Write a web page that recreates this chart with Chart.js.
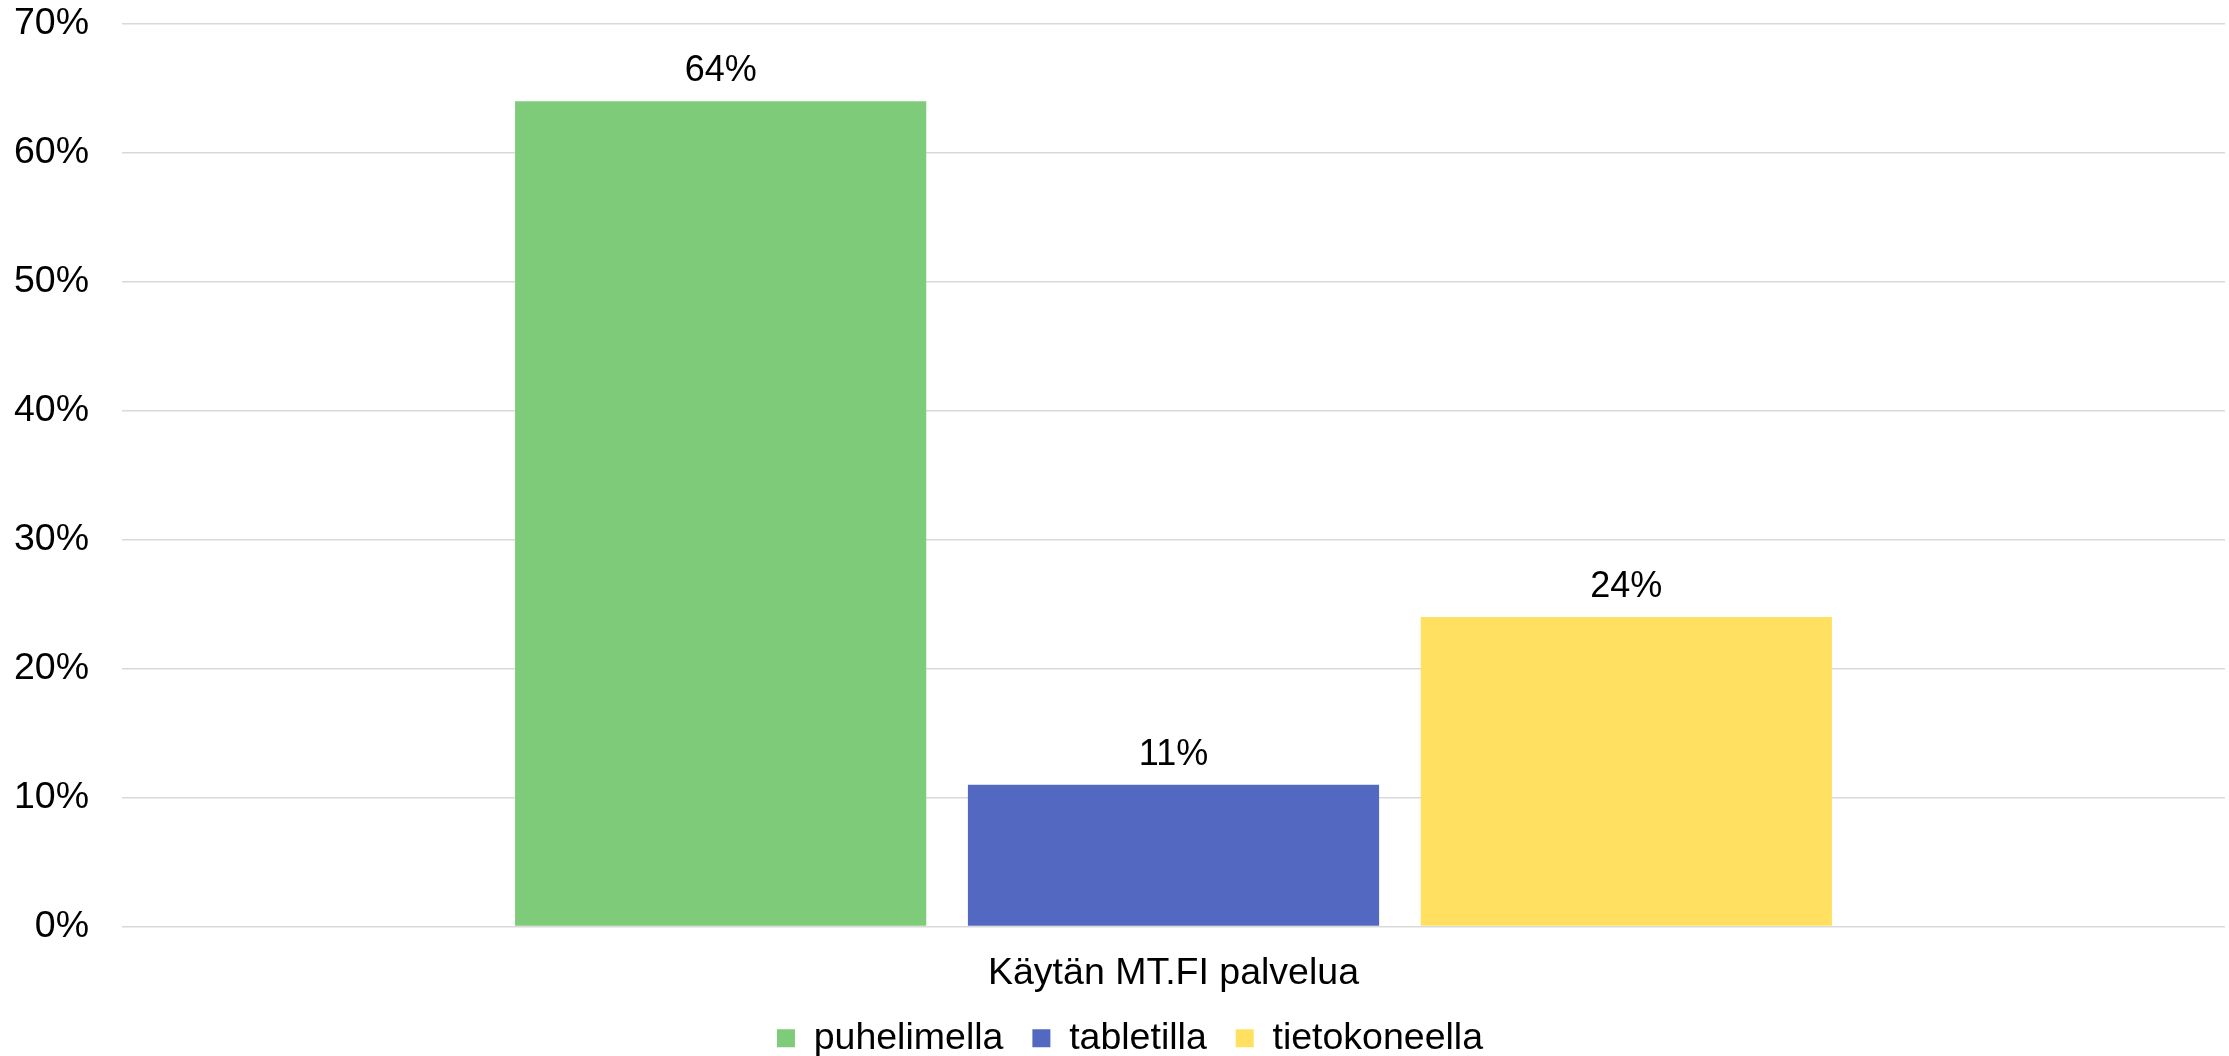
<!DOCTYPE html>
<html>
<head>
<meta charset="utf-8">
<script src="https://cdn.jsdelivr.net/npm/chart.js@4"></script>
<style>
html,body{margin:0;padding:0;background:#fff;}
#wrap{width:2229px;height:1056px;}
</style>
</head>
<body>
<div id="wrap"><canvas id="c" width="2229" height="1056"></canvas></div>
<script>
const categories = ["Käytän MT.FI palvelua"];
const seriesNames = ["puhelimella", "tabletilla", "tietokoneella"];
const puhelimella = [64];
const tabletilla = [11];
const tietokoneella = [24];
const seriesColors = ["#7ECC79", "#5369C1", "#FFE060"];
const yTicks = [0, 10, 20, 30, 40, 50, 60, 70];

const FONT = "'Liberation Sans', Arial, sans-serif";

const valueLabels = {
  id: 'valueLabels',
  afterDatasetsDraw(chart) {
    const ctx = chart.ctx;
    ctx.save();
    ctx.font = '36px ' + FONT;
    ctx.fillStyle = '#000';
    ctx.textAlign = 'center';
    ctx.textBaseline = 'alphabetic';
    chart.data.datasets.forEach((ds, i) => {
      const meta = chart.getDatasetMeta(i);
      meta.data.forEach((bar, j) => {
        ctx.fillText(ds.data[j] + '%', bar.x, bar.y - 20);
      });
    });
    ctx.restore();
  }
};

const legendShift = {
  id: 'legendShift',
  afterLayout(chart) {
    const lg = chart.legend;
    if (lg) {
      lg.left += 35;
      lg.top -= 23;
      lg.bottom -= 23;
    }
  }
};

new Chart(document.getElementById('c'), {
  type: 'bar',
  data: {
    labels: categories,
    datasets: [
      { label: seriesNames[0], data: puhelimella, backgroundColor: seriesColors[0] },
      { label: seriesNames[1], data: tabletilla, backgroundColor: seriesColors[1] },
      { label: seriesNames[2], data: tietokoneella, backgroundColor: seriesColors[2] }
    ]
  },
  plugins: [valueLabels, legendShift],
  options: {
    responsive: false,
    animation: false,
    devicePixelRatio: 1,
    categoryPercentage: 0.646,
    barPercentage: 0.908,
    layout: { padding: { top: 24, right: 4, left: 0, bottom: -34 } },
    plugins: {
      tooltip: { enabled: false },
      legend: {
        position: 'bottom',
        labels: {
          font: { family: FONT, size: 37.5 },
          color: '#000',
          boxWidth: 18,
          boxHeight: 18,
          padding: 29
        }
      }
    },
    scales: {
      x: {
        grid: { display: false },
        border: { display: false },
        ticks: { font: { family: FONT, size: 37.5 }, color: '#000', padding: 17 }
      },
      y: {
        min: 0,
        max: 70,
        afterFit(scale) { scale.width = 122; },
        afterBuildTicks(scale) { scale.ticks = yTicks.map(v => ({ value: v })); },
        grid: { color: '#d9d9d9', lineWidth: 1.5, drawTicks: true, tickLength: 33, tickColor: 'rgba(0,0,0,0)' },
        border: { display: false },
        ticks: {
          font: { family: FONT, size: 37.5 },
          color: '#000',
          padding: 0,
          callback: v => v + '%'
        }
      }
    }
  }
});
</script>
</body>
</html>
